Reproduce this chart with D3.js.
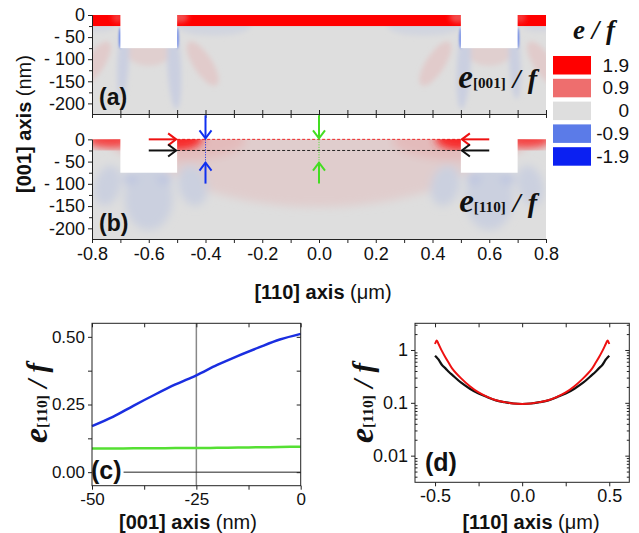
<!DOCTYPE html>
<html>
<head>
<meta charset="utf-8">
<script src="https://cdn.jsdelivr.net/npm/d3@7"></script>
<style>
body { margin: 0; background: #fff; }
svg { font-family: "Liberation Sans", Arial, sans-serif; }
</style>
</head>
<body>
<svg id="fig" width="639" height="533"></svg>
<script>
// ---------------- data ----------------
// map geometry (x in um, z in nm)
var trenchX = [[-0.7, -0.5], [0.5, 0.7]];
var trenchBottom = -75;
var filmBottom = -25;

var legendValues = [1.9, 0.9, 0, -0.9, -1.9];
var legendLabels = ["1.9", "0.9", "0", "-0.9", "-1.9"];
var legendColors = ["#ff0000", "#ee6e6e", "#dedede", "#5b7be8", "#0b20f2"];

// strain lobes: [x, z, half width (um), half depth (nm), tilt (deg), e/f]
var lobesA = [
  [-0.6, -75, 0.085, 40, 0, 0.12],
  [-0.41, -110, 0.033, 58, -33, 0.15],
  [-0.79, -110, 0.033, 58, 33, 0.15],
  [-0.69, -105, 0.02, 85, 3, -0.14],
  [-0.51, -118, 0.024, 95, -3, -0.14],
  [-0.37, -25, 0.13, 22, 0, -0.08],
  [-0.78, -28, 0.06, 10, 0, -0.07],
  [0.6, -75, 0.085, 40, 0, 0.12],
  [0.41, -110, 0.033, 58, 33, 0.15],
  [0.79, -110, 0.033, 58, -33, 0.15],
  [0.69, -105, 0.02, 85, -3, -0.14],
  [0.51, -118, 0.024, 95, 3, -0.14],
  [0.37, -25, 0.13, 22, 0, -0.08],
  [0.78, -28, 0.06, 10, 0, -0.07]
];
var wallsA = [
  [-0.7, -52, 0.005, 24, 0, -0.9],
  [-0.5, -52, 0.005, 24, 0, -0.9],
  [0.5, -52, 0.005, 24, 0, -0.9],
  [0.7, -52, 0.005, 24, 0, -0.9]
];
var filmA = [
  [-0.49, -5, 0.03, 12, 0, 1.2],
  [0.49, -5, 0.03, 12, 0, 1.2],
  [-0.71, -5, 0.02, 12, 0, 1.4],
  [0.71, -5, 0.02, 12, 0, 1.4]
];

var lobesB = [
  [0, 0, 0.6, 152, 0, 0.14],
  [-0.5, -3, 0.24, 45, 0, 0.28],
  [0.5, -3, 0.24, 45, 0, 0.28],
  [-0.6, -132, 0.085, 72, 0, -0.13],
  [-0.745, -104, 0.045, 46, 15, -0.13],
  [-0.445, -104, 0.05, 46, -15, -0.13],
  [-0.665, -88, 0.025, 14, 0, -0.22],
  [-0.545, -88, 0.025, 14, 0, -0.22],
  [0.6, -132, 0.085, 72, 0, -0.13],
  [0.745, -104, 0.045, 46, -15, -0.13],
  [0.445, -104, 0.05, 46, 15, -0.13],
  [0.665, -88, 0.025, 14, 0, -0.22],
  [0.545, -88, 0.025, 14, 0, -0.22]
];
var filmB = [
  [-0.5, 0, 0.09, 25, 0, 1.5],
  [0.5, 0, 0.09, 25, 0, 1.5],
  [-0.74, 0, 0.08, 20, 0, 1.3],
  [0.74, 0, 0.08, 20, 0, 1.3]
];

// cut lines marked in (b)
var cutX = [-0.4, 0];          // blue, green  -> panel (c)
var cutZ = [0, -25];           // red, black   -> panel (d)
var cutDepth = -50;

// panel (c): e110/f along [001]
var depthZ = [-50, -45, -40, -35, -30, -25, -20, -15, -10, -5, 0];
var eAtXm04 = [0.170, 0.204, 0.246, 0.286, 0.324, 0.358, 0.396, 0.430, 0.461, 0.490, 0.511];
var eAtX0 = [0.087, 0.087, 0.088, 0.088, 0.089, 0.089, 0.090, 0.091, 0.092, 0.093, 0.094];

// panel (d): e110/f along [110]
var posX = [-0.5, -0.49, -0.48, -0.46, -0.44, -0.42, -0.4, -0.35, -0.3, -0.25, -0.2, -0.15, -0.1, -0.05, 0,
            0.05, 0.1, 0.15, 0.2, 0.25, 0.3, 0.35, 0.4, 0.42, 0.44, 0.46, 0.48, 0.49, 0.5];
var eAtZ0 = [1.3, 1.52, 1.3, 0.95, 0.72, 0.56, 0.44, 0.29, 0.206, 0.157, 0.13, 0.112, 0.103, 0.097, 0.095,
             0.097, 0.103, 0.112, 0.13, 0.157, 0.206, 0.29, 0.44, 0.56, 0.72, 0.95, 1.3, 1.52, 1.3];
var eAtZm25 = [0.78, 0.72, 0.66, 0.52, 0.449, 0.384, 0.335, 0.24, 0.185, 0.150, 0.128, 0.111, 0.103, 0.097, 0.095,
               0.097, 0.103, 0.111, 0.128, 0.150, 0.185, 0.24, 0.335, 0.384, 0.449, 0.52, 0.66, 0.72, 0.78];

var zTicks = [0, -50, -100, -150, -200];
var zTickLabels = ["0", "- 50", "- 100", "-150", "-200"];
var zMinor = [-25, -75, -125, -175];
var xTicks = [-0.8, -0.6, -0.4, -0.2, 0, 0.2, 0.4, 0.6, 0.8];
var xTickLabels = ["-0.8", "-0.6", "-0.4", "-0.2", "0.0", "0.2", "0.4", "0.6", "0.8"];
var xMinor = [-0.7, -0.5, -0.3, -0.1, 0.1, 0.3, 0.5, 0.7];

var cTicksY = [0, 0.25, 0.5], cTickLabelsY = ["0.00", "0.25", "0.50"], cMinorY = [0.125, 0.375];
var cTicksX = [-50, -25, 0], cTickLabelsX = ["-50", "-25", "0"], cMinorX = [-37.5, -12.5];
var dTicksY = [0.01, 0.1, 1], dTickLabelsY = ["0.01", "0.1", "1"];
var dMinorY = [0.004, 0.005, 0.006, 0.007, 0.008, 0.009, 0.02, 0.03, 0.04, 0.05, 0.06, 0.07, 0.08, 0.09,
               0.2, 0.3, 0.4, 0.5, 0.6, 0.7, 0.8, 0.9, 2, 3];
var dTicksX = [-0.5, 0, 0.5], dTickLabelsX = ["-0.5", "0.0", "0.5"], dMinorX = [-0.25, 0.25];

// ---------------- setup ----------------
var svg = d3.select("#fig");
var defs = svg.append("defs");
var SANS = "'Liberation Sans',Arial,sans-serif";
var SERIF = "'Liberation Serif','Times New Roman',serif";

function addBlur(id, s) {
  defs.append("filter").attr("id", id)
    .attr("x", "-60%").attr("y", "-60%").attr("width", "220%").attr("height", "220%")
    .append("feGaussianBlur").attr("stdDeviation", s);
}
addBlur("soft", 2.5);
addBlur("soft1", 1);
addBlur("soft4", 4);

var color = d3.scaleLinear().domain(legendValues).range(legendColors).clamp(true);

var xMap = d3.scaleLinear().domain([-0.8, 0.8]).range([92, 546]);
var yA = d3.scaleLinear().domain([-224, 0]).range([114, 15]);
var yB = d3.scaleLinear().domain([-224, 57]).range([239, 114]);

function drawLobes(g, y, data, filter) {
  g.append("g").attr("filter", "url(#" + filter + ")")
    .selectAll("ellipse").data(data).join("ellipse")
    .attr("cx", function(d) { return xMap(d[0]); })
    .attr("cy", function(d) { return y(d[1]); })
    .attr("rx", function(d) { return xMap(d[2]) - xMap(0); })
    .attr("ry", function(d) { return y(0) - y(d[3]); })
    .attr("transform", function(d) { return "rotate(" + d[4] + "," + xMap(d[0]) + "," + y(d[1]) + ")"; })
    .attr("fill", function(d) { return color(d[5]); });
}

function drawMap(id, y, lobes, walls, film, filmBase) {
  var x0 = xMap(-0.8), x1 = xMap(0.8), top = y(0), bot = y(-224);
  defs.append("clipPath").attr("id", id + "-clip").append("rect")
    .attr("x", x0).attr("y", top).attr("width", x1 - x0).attr("height", bot - top);
  defs.append("clipPath").attr("id", id + "-film").append("rect")
    .attr("x", x0).attr("y", top).attr("width", x1 - x0).attr("height", y(filmBottom) - top);

  var body = svg.append("g").attr("clip-path", "url(#" + id + "-clip)");
  body.append("rect").attr("x", x0).attr("y", top).attr("width", x1 - x0).attr("height", bot - top)
    .attr("fill", color(0));
  drawLobes(body, y, lobes, id == "b" ? "soft4" : "soft");
  if (walls) drawLobes(body, y, walls, "soft1");
  if (filmBase != null) {
    body.append("rect").attr("x", x0).attr("y", top).attr("width", x1 - x0)
      .attr("height", y(filmBottom) - top).attr("fill", color(filmBase));
  }
  var fg = svg.append("g").attr("clip-path", "url(#" + id + "-film)");
  drawLobes(fg, y, film, id == "b" ? "soft4" : "soft");

  svg.append("g").selectAll("rect").data(trenchX).join("rect")
    .attr("x", function(d) { return xMap(d[0]); })
    .attr("y", top - 1)
    .attr("width", function(d) { return xMap(d[1]) - xMap(d[0]); })
    .attr("height", y(trenchBottom) - top + 1)
    .attr("fill", "#fff");
}

drawMap("a", yA, lobesA, wallsA, filmA, 1.9);
drawMap("b", yB, lobesB, null, filmB, null);

// ---- map axes ----
function styleAxis(g, size) {
  g.attr("font-family", SANS).attr("font-size", size);
  g.selectAll("path,line").attr("stroke", "#222");
  g.selectAll("text").attr("fill", "#111");
}

function mapLeftAxis(y) {
  var s = y.copy().domain([-224, 0]).range([y(-224), y(0)]);
  var g = svg.append("g").attr("transform", "translate(" + xMap(-0.8) + ",0)");
  g.call(d3.axisLeft(s).tickValues(zTicks).tickFormat(function(d, i) { return zTickLabels[i]; })
    .tickSize(4).tickSizeOuter(0).tickPadding(3));
  g.append("g").call(d3.axisLeft(s).tickValues(zMinor).tickFormat("").tickSize(3).tickSizeOuter(0));
  styleAxis(g, 18);
}
mapLeftAxis(yA);
mapLeftAxis(yB);

// line between (a) and (b), ticks inward on both sides
var mid = svg.append("g").attr("transform", "translate(0," + yA(-224) + ")");
mid.call(d3.axisBottom(xMap).tickValues(xTicks.concat(xMinor)).tickFormat("").tickSize(-4).tickSizeOuter(0));
mid.append("g").call(d3.axisTop(xMap).tickValues(xTicks.concat(xMinor)).tickFormat("").tickSize(-4).tickSizeOuter(0));
styleAxis(mid, 10);

var bx = svg.append("g").attr("transform", "translate(0," + yB(-224) + ")");
bx.call(d3.axisBottom(xMap).tickValues(xTicks).tickFormat(function(d, i) { return xTickLabels[i]; })
  .tickSize(4).tickSizeOuter(0).tickPadding(4));
bx.append("g").call(d3.axisBottom(xMap).tickValues(xMinor).tickFormat("").tickSize(4).tickSizeOuter(0));
styleAxis(bx, 18);

// ---- cut lines and arrows in (b) ----
var cutColorsX = ["#1030f0", "#44dd22"];
var cutColorsZ = ["#ee1111", "#111111"];

svg.append("g").selectAll("line").data(cutZ).join("line")
  .attr("x1", xMap(-0.5)).attr("x2", xMap(0.5))
  .attr("y1", function(d) { return yB(d); }).attr("y2", function(d) { return yB(d); })
  .attr("stroke", function(d, i) { return cutColorsZ[i]; })
  .attr("stroke-width", 0.9).attr("stroke-dasharray", "3,2");

svg.append("g").selectAll("line").data(cutX).join("line")
  .attr("x1", function(d) { return xMap(d); }).attr("x2", function(d) { return xMap(d); })
  .attr("y1", yB(0)).attr("y2", yB(cutDepth))
  .attr("stroke", function(d, i) { return cutColorsX[i]; })
  .attr("stroke-width", 1).attr("stroke-dasharray", "1,1.5");

function arrow(x1, y1, x2, y2, col) {
  var a = Math.atan2(y2 - y1, x2 - x1), L = 8, W = 6;
  var bx = x2 - L * Math.cos(a), by = y2 - L * Math.sin(a);
  var px = -Math.sin(a) * W, py = Math.cos(a) * W;
  var g = svg.append("g").attr("stroke", col).attr("stroke-width", 2).attr("fill", "none");
  g.append("line").attr("x1", x1).attr("y1", y1).attr("x2", x2).attr("y2", y2);
  g.append("path").attr("d", "M" + (bx + px) + "," + (by + py) + "L" + x2 + "," + y2 + "L" + (bx - px) + "," + (by - py));
}
cutZ.forEach(function(z, i) {
  arrow(xMap(-0.6), yB(z), xMap(-0.5) - 1, yB(z), cutColorsZ[i]);
  arrow(xMap(0.6), yB(z), xMap(0.5) + 1, yB(z), cutColorsZ[i]);
});
cutX.forEach(function(x, i) {
  arrow(xMap(x), yB(0) - 24, xMap(x), yB(0) - 1, cutColorsX[i]);
  arrow(xMap(x), yB(cutDepth) + 22, xMap(x), yB(cutDepth) + 1, cutColorsX[i]);
});

// ---- labels ----
function eLabel(g, sub, size) {
  var t = g.append("text").attr("font-family", SERIF).attr("font-weight", "bold").attr("fill", "#111");
  t.append("tspan").attr("font-style", "italic").attr("font-size", size).text("e");
  t.append("tspan").attr("font-size", size * 0.46).text(sub);
  t.append("tspan").attr("font-style", "italic").attr("font-size", size * 0.85).text(" / f");
  return t;
}
eLabel(svg.append("g").attr("transform", "translate(537,88)"), "[001]", 33).attr("text-anchor", "end");
eLabel(svg.append("g").attr("transform", "translate(537,212)"), "[110]", 33).attr("text-anchor", "end");

function panelLabel(x, y, s) {
  return svg.append("text").attr("x", x).attr("y", y).attr("font-size", 23).attr("font-weight", "bold")
    .attr("fill", "#111").text(s);
}
panelLabel(99, 105, "(a)");
panelLabel(99, 231, "(b)");

function axisTitle(g, bold, normal, size) {
  var t = g.append("text").attr("text-anchor", "middle").attr("font-size", size).attr("fill", "#111");
  t.append("tspan").attr("font-weight", "bold").text(bold + " ");
  t.append("tspan").text(normal);
  return t;
}
axisTitle(svg.append("g").attr("transform", "translate(31,124) rotate(-90)"), "[001] axis", "(nm)", 20);
axisTitle(svg.append("g").attr("transform", "translate(323,299)"), "[110] axis", "(\u03bcm)", 20);

// legend
var leg = svg.append("g");
leg.append("text").attr("x", 594).attr("y", 39).attr("text-anchor", "middle")
  .attr("font-family", SERIF).attr("font-style", "italic").attr("font-weight", "bold")
  .attr("font-size", 27).attr("fill", "#111").text("e / f");
leg.selectAll("rect").data(legendValues).join("rect")
  .attr("x", 553).attr("y", function(d, i) { return 56 + i * 22.8; })
  .attr("width", 38).attr("height", 18.5)
  .attr("fill", function(d, i) { return legendColors[i]; });
leg.selectAll("text.lab").data(legendLabels).join("text").attr("class", "lab")
  .attr("x", 629).attr("y", function(d, i) { return 56 + i * 22.8 + 15.5; })
  .attr("text-anchor", "end").attr("font-size", 19).attr("fill", "#111").text(function(d) { return d; });

// ---------------- panel (c) ----------------
var xC = d3.scaleLinear().domain([-50, 0]).range([92, 300.7]);
var yC = d3.scaleLinear().domain([-0.05, 0.55]).range([485.7, 323.3]);
var gc = svg.append("g");

gc.append("line").attr("x1", xC(-25)).attr("x2", xC(-25)).attr("y1", yC(0.55)).attr("y2", yC(-0.05))
  .attr("stroke", "#888").attr("stroke-width", 1.5);

var line = d3.line().curve(d3.curveMonotoneX);
gc.append("path").attr("d", line(depthZ.map(function(z, i) { return [xC(z), yC(eAtX0[i])]; })))
  .attr("fill", "none").attr("stroke", "#55e033").attr("stroke-width", 2.5);
gc.append("path").attr("d", line(depthZ.map(function(z, i) { return [xC(z), yC(eAtXm04[i])]; })))
  .attr("fill", "none").attr("stroke", "#1a2ee0").attr("stroke-width", 2.5);

var cLab = gc.append("text").attr("x", 91).attr("y", 479).attr("font-size", 25).attr("font-weight", "bold")
  .attr("fill", "#111").text("(c)");
var cBox = cLab.node().getBBox();
gc.append("line").attr("x1", cBox.x + cBox.width + 2).attr("x2", xC(0)).attr("y1", yC(0)).attr("y2", yC(0))
  .attr("stroke", "#222").attr("stroke-width", 1);

function frame(g, x, y) {
  g.append("rect").attr("x", x.range()[0]).attr("y", y.range()[1])
    .attr("width", x.range()[1] - x.range()[0]).attr("height", y.range()[0] - y.range()[1])
    .attr("fill", "none").attr("stroke", "#222").attr("stroke-width", 1);
}
frame(gc, xC, yC);

function ticks(g, axis, tx, ty, size) {
  var a = g.append("g").attr("transform", "translate(" + tx + "," + ty + ")").call(axis.tickSizeOuter(0));
  a.select(".domain").remove();
  styleAxis(a, size);
  return a;
}
ticks(gc, d3.axisLeft(yC).tickValues(cTicksY).tickFormat(function(d, i) { return cTickLabelsY[i]; }).tickSize(4).tickPadding(3), xC(-50), 0, 17);
ticks(gc, d3.axisLeft(yC).tickValues(cMinorY).tickFormat("").tickSize(4), xC(-50), 0, 17);
ticks(gc, d3.axisRight(yC).tickValues(cTicksY.concat(cMinorY)).tickFormat("").tickSize(-4), xC(0), 0, 17);
ticks(gc, d3.axisBottom(xC).tickValues(cTicksX).tickFormat(function(d, i) { return cTickLabelsX[i]; }).tickSize(4).tickPadding(3), 0, yC(-0.05), 17);
ticks(gc, d3.axisBottom(xC).tickValues(cMinorX).tickFormat("").tickSize(4), 0, yC(-0.05), 17);
ticks(gc, d3.axisTop(xC).tickValues(cTicksX.concat(cMinorX)).tickFormat("").tickSize(-4), 0, yC(0.55), 17);

eLabel(svg.append("g").attr("transform", "translate(47,403) rotate(-90)"), "[110]", 34).attr("text-anchor", "middle");
axisTitle(svg.append("g").attr("transform", "translate(188,529)"), "[001] axis", "(nm)", 20);

// ---------------- panel (d) ----------------
var xD = d3.scaleLinear().domain([-0.615, 0.615]).range([415, 629.3]);
var yD = d3.scaleLog().domain([0.00313, 3.2]).range([482.3, 323.3]);
var gd = svg.append("g");

var lineD = d3.line().curve(d3.curveCatmullRom);
gd.append("path").attr("d", lineD(posX.map(function(x, i) { return [xD(x), yD(eAtZm25[i])]; })))
  .attr("fill", "none").attr("stroke", "#111").attr("stroke-width", 2.2);
gd.append("path").attr("d", lineD(posX.map(function(x, i) { return [xD(x), yD(eAtZ0[i])]; })))
  .attr("fill", "none").attr("stroke", "#ee1111").attr("stroke-width", 2);

gd.append("text").attr("x", 425).attr("y", 471).attr("font-size", 25).attr("font-weight", "bold")
  .attr("fill", "#111").text("(d)");
frame(gd, xD, yD);

ticks(gd, d3.axisLeft(yD).tickValues(dTicksY).tickFormat(function(d, i) { return dTickLabelsY[i]; }).tickSize(4).tickPadding(3), xD.range()[0], 0, 18);
ticks(gd, d3.axisLeft(yD).tickValues(dMinorY).tickFormat("").tickSize(-2.5), xD.range()[0], 0, 18);
ticks(gd, d3.axisRight(yD).tickValues(dTicksY).tickFormat("").tickSize(-4), xD.range()[1], 0, 18);
ticks(gd, d3.axisRight(yD).tickValues(dMinorY).tickFormat("").tickSize(-2.5), xD.range()[1], 0, 18);
ticks(gd, d3.axisBottom(xD).tickValues(dTicksX).tickFormat(function(d, i) { return dTickLabelsX[i]; }).tickSize(4).tickPadding(3), 0, yD.range()[0], 18);
ticks(gd, d3.axisBottom(xD).tickValues(dMinorX).tickFormat("").tickSize(4), 0, yD.range()[0], 18);
ticks(gd, d3.axisTop(xD).tickValues(dTicksX.concat(dMinorX)).tickFormat("").tickSize(-4), 0, yD.range()[1], 18);

eLabel(svg.append("g").attr("transform", "translate(373,403) rotate(-90)"), "[110]", 34).attr("text-anchor", "middle");
axisTitle(svg.append("g").attr("transform", "translate(531,529)"), "[110] axis", "(\u03bcm)", 20);
</script>
</body>
</html>
